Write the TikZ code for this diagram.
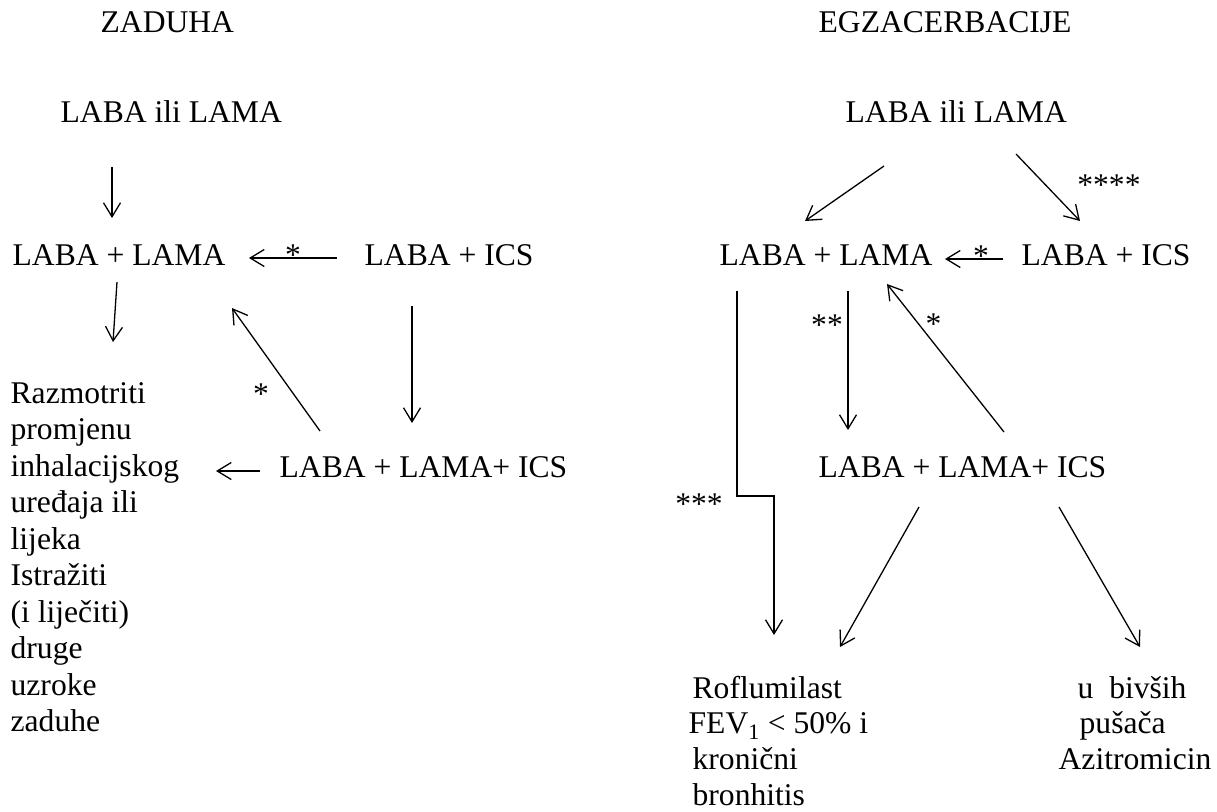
\documentclass[tikz,border=0pt]{standalone}
\usepackage{fontspec}
\setmainfont{Liberation Serif}
\usetikzlibrary{arrows.meta}

\begin{document}
\begin{tikzpicture}[x=1pt,y=-1pt,>={Straight Barb[length=14pt,width=17pt]},line width=1.3pt,
	every node/.style={font=\fontsize{31.6}{36.5}\selectfont,inner sep=0pt},
	txt/.style={anchor=base west},
	col/.style={txt,align=left,font=\fontsize{31.6}{#1}\selectfont},
	lbl/.style={anchor=base}]
\useasboundingbox (0,0) rectangle (1217,811);

\begin{scope}
	\node[txt] (zad) at (100,32) {ZADUHA};
	\node[txt] (lilL) at (60,122) {LABA ili LAMA};
	\node[txt] (llL) at (12,265) {LABA + LAMA};
	\node[txt] (liL) at (364,265) {LABA + ICS};
	\node[txt] (lliL) at (279,477) {LABA + LAMA+ ICS};
	\node[col=36.5] (razm) at (10,731.5) {Razmotriti\\promjenu\\inhalacijskog\\uređaja ili\\lijeka\\Istražiti\\(i liječiti)\\druge\\uzroke\\zaduhe};

	\draw[->] ([xshift=52pt,yshift=-45pt]lilL.base west) -- ([xshift=100pt,yshift=47pt]llL.base west);
	\draw[->] ([xshift=-27pt,yshift=7pt]liL.base west) -- ([xshift=237pt,yshift=7pt]llL.base west)
		node[lbl,midway,yshift=-7pt] {*};
	\draw[->] ([xshift=105pt,yshift=-17pt]llL.base west) -- ([xshift=103pt,yshift=389.5pt]razm.base west);
	\draw[->] ([xshift=48pt,yshift=-41pt]liL.base west) -- ([xshift=133pt,yshift=54pt]lliL.base west);
	\draw[->] ([xshift=41pt,yshift=46pt]lliL.base west) -- ([xshift=220pt,yshift=-43pt]llL.base west)
		node[lbl,pos=0.34,xshift=-29pt,yshift=-15pt] {*};
	\draw[->] ([xshift=-19pt,yshift=6pt]lliL.base west) -- ([xshift=206pt,yshift=260.5pt]razm.base west);
\end{scope}

\begin{scope}
	\node[txt] (egz) at (818,32) {EGZACERBACIJE};
	\node[txt] (lilR) at (845,122) {LABA ili LAMA};
	\node[txt] (llR) at (719,265) {LABA + LAMA};
	\node[txt] (liR) at (1021,265) {LABA + ICS};
	\node[txt] (lliR) at (818,477) {LABA + LAMA+ ICS};
	\node[col=35.8] (rofl) at (688,805.4) {\hspace*{4pt}Roflumilast\\FEV\textsubscript{1} < 50\% i\\\hspace*{4pt}kronični\\\hspace*{4pt}bronhitis};
	\node[col=35.8] (azi) at (1058,769.6) {\hspace*{19pt}u\ \ bivših\\\hspace*{21pt}pušača\\Azitromicin};

	\draw[->] ([xshift=39pt,yshift=-44pt]lilR.base west) -- ([xshift=86pt,yshift=44pt]llR.base west);
	\draw[->] ([xshift=171pt,yshift=-32pt]lilR.base west) -- ([xshift=59pt,yshift=44pt]liR.base west)
		node[lbl,pos=0.39,xshift=68pt,yshift=-15pt] {****};
	\draw[->] ([xshift=-18pt,yshift=6pt]liR.base west) -- ([xshift=226pt,yshift=6pt]llR.base west)
		node[lbl,pos=0.38,yshift=-7pt] {*};
	\draw[->] ([xshift=129pt,yshift=-26pt]llR.base west) -- ([xshift=30pt,yshift=47pt]lliR.base west)
		node[lbl,pos=0.21,xshift=-21pt,yshift=-15pt] {**};
	\draw[->] ([xshift=186pt,yshift=45pt]lliR.base west) -- ([xshift=168pt,yshift=-19pt]llR.base west)
		node[lbl,pos=0.757,xshift=18pt,yshift=-15pt] {*};
	\draw[->] ([xshift=18pt,yshift=-26pt]llR.base west) |- ++(37,205)
		node[lbl,pos=0.5,xshift=-38pt,yshift=-18pt] {***}
		-- ([xshift=86pt,yshift=170.4pt]rofl.base west);
	\draw[->] ([xshift=101pt,yshift=-30pt]lliR.base west) -- ([xshift=152pt,yshift=158.4pt]rofl.base west);
	\draw[->] ([xshift=241pt,yshift=-30pt]lliR.base west) -- ([xshift=82pt,yshift=122.6pt]azi.base west);
\end{scope}
\end{tikzpicture}
\end{document}
